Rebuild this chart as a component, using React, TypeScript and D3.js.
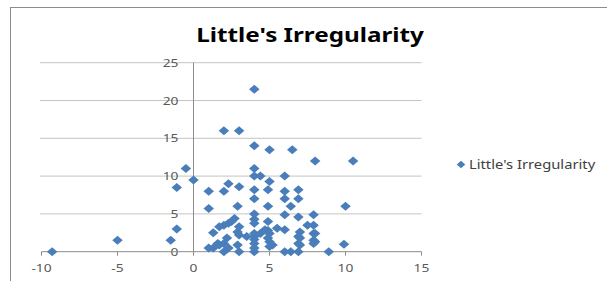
import * as d3 from "d3";

// Little's Irregularity readings (x, y pairs)
const seriesName = "Little's Irregularity";
const pointX = [
  -9.3, -5, -1.5, -1.1, -1.1, -0.5, 0,
  4, 2, 3, 4, 5, 6.5, 8, 10.5,
  4, 4, 4.4, 5, 6, 2.3, 3,
  1, 2, 4, 4.9, 6, 6.9,
  4, 6, 6.9,
  1, 2.9, 4.9, 6.4, 10,
  4, 6, 6.9, 7.9, 2.7, 4,
  2.3, 1.7, 4, 4.9, 7.5, 7.9, 3, 2, 2.5,
  1.3, 2.9, 4, 4.7, 5.5, 4.9, 7, 7.9, 6, 4.4, 5, 3, 8,
  2.2, 3.5, 4, 4.9, 6.9, 7.9, 4, 7,
  1.7, 1.3, 2.3, 2.9, 4, 5.2, 6.9, 7.9, 9.9, 1, 2, 1.6, 4, 5, 5, 8, 7,
  2, 3, 4, 6, 6.4, 6.9, 8.9,
];
const pointY = [
  0, 1.5, 1.5, 3, 8.5, 11, 9.5,
  21.5, 16, 16, 14, 13.5, 13.5, 12, 12,
  11, 10, 10, 9.3, 10, 9, 8.6,
  8, 8, 8.2, 8.2, 8, 8.2,
  7, 7, 7,
  5.7, 6, 6, 6, 6,
  5, 4.9, 4.6, 4.9, 4.4, 4.3,
  3.75, 3.3, 3.75, 4, 3.5, 3.5, 3.3, 3.5, 4,
  2.5, 2.6, 2.4, 2.9, 3.1, 2.8, 2.6, 2.4, 2.9, 2.4, 2.4, 2.2, 2.4,
  1.8, 2, 1.6, 1.8, 2, 1.5, 2, 1.8,
  0.9, 0.5, 0.5, 0.9, 0.5, 0.9, 1.1, 1.1, 1, 0.5, 1.1, 1.1, 1.1, 0.7, 1.3, 1.3, 0.9,
  0, 0, 0, 0, 0, 0, 0,
];
const xTicks = [-10, -5, 0, 5, 10, 15];
const yTicks = [0, 5, 10, 15, 20, 25];

const W = 607;
const H = 281;
const blue = "#4a7ebb";
const font = "'Noto Sans', 'Liberation Sans', sans-serif";
// the picture is stretched sideways, so text is widened a little
const stretch = 1.2;

export default function App() {
  const x = d3.scaleLinear().domain([-10, 15]).range([41.5, 421.5]);
  const y = d3.scaleLinear().domain([0, 25]).range([251.7, 62.7]);
  const diamond = (cx: number, cy: number, w = 10.5, h = 9) =>
    `M${cx},${cy - h / 2}L${cx + w / 2},${cy}L${cx},${cy + h / 2}L${cx - w / 2},${cy}Z`;
  const at = (tx: number, ty: number) => `translate(${tx},${ty}) scale(${stretch},1)`;

  return (
    <svg
      width={W}
      height={H}
      style={{ position: "absolute", left: 0, top: 0, background: "#fff" }}
      fontFamily={font}
    >
      <rect x={10.5} y={7.5} width={700} height={400} fill="#fff" stroke="#8c8c8c" />

      <text transform={at(310, 42)} textAnchor="middle" fontSize={20.2} fontWeight="bold" fill="#000">
        {seriesName}
      </text>

      {/* gridlines */}
      {yTicks.filter((t) => t > 0).map((t) => (
        <line key={t} x1={40} x2={421.5} y1={y(t)} y2={y(t)} stroke="#c4c4c4" />
      ))}

      {/* y axis at x = 0 */}
      <line x1={x(0)} x2={x(0)} y1={y(0)} y2={y(25)} stroke="#8c8c8c" />
      {yTicks.map((t) => (
        <text key={t} transform={at(x(0) - 15, y(t) + 4)} textAnchor="end" fontSize={11.5} fill="#595959">
          {t}
        </text>
      ))}

      {/* x axis at y = 0 */}
      <line x1={x(-10)} x2={x(15)} y1={y(0)} y2={y(0)} stroke="#8c8c8c" />
      {xTicks.map((t) => (
        <g key={t}>
          <line x1={x(t)} x2={x(t)} y1={y(0)} y2={y(0) + 4} stroke="#8c8c8c" />
          <text transform={at(x(t), 272)} textAnchor="middle" fontSize={11.5} fill="#595959">
            {t}
          </text>
        </g>
      ))}

      {/* points */}
      {pointX.map((v, i) => (
        <path key={i} d={diamond(x(v), y(pointY[i]))} fill={blue} />
      ))}

      {/* legend */}
      <path d={diamond(461, 164.5, 8.5, 7.5)} fill={blue} />
      <text transform={at(469, 169)} fontSize={12.3} fill="#404040">
        {seriesName}
      </text>
    </svg>
  );
}
